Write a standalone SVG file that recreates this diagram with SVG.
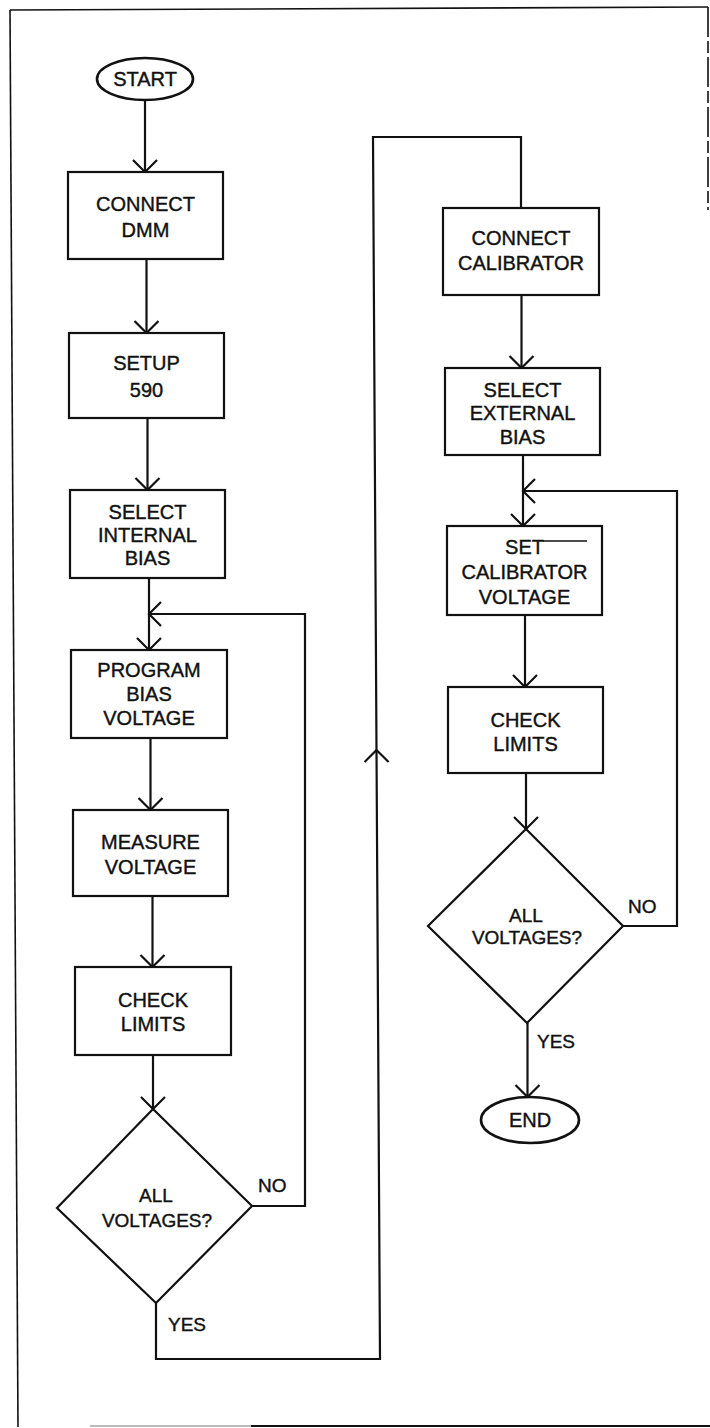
<svg xmlns="http://www.w3.org/2000/svg" width="710" height="1428" viewBox="0 0 710 1428">
<style>
.shape{fill:#fff;stroke:#111;stroke-width:2.2}
.term{fill:#fff;stroke:#111;stroke-width:2.6}
.conn{fill:none;stroke:#111;stroke-width:2.2}
.frame{fill:none;stroke:#111;stroke-width:1.6}
text{font-family:"Liberation Sans",Arial,Helvetica,sans-serif;font-size:20px;fill:#111;stroke:#111;stroke-width:0.4;text-anchor:middle}
.d{font-size:19px}
.lbl{font-size:19px;text-anchor:start}
</style>
<defs>
<marker id="ah" markerUnits="userSpaceOnUse" markerWidth="30" markerHeight="30" viewBox="-15 -15 30 30" refX="0" refY="0" orient="auto">
<path d="M-12,-12 L0,0 L-12,12" fill="none" stroke="#111" stroke-width="2.2"/>
</marker>
</defs>
<rect width="710" height="1428" fill="#fff"/>
<g id="frame">
<path class="frame" d="M10,10 L708,7"/>
<path class="frame" d="M10,10 L18,1427"/>
<path class="frame" d="M708,7 L708,210" stroke-dasharray="30 4 12 4"/>
<path d="M90,1426 H251" stroke="#bbb" stroke-width="2" fill="none"/>
<path d="M251,1426 H710" stroke="#111" stroke-width="2" fill="none"/>
</g>
<g id="connectors">
<path class="conn" d="M145,100 V172" marker-end="url(#ah)"/>
<path class="conn" d="M146.5,259 V333" marker-end="url(#ah)"/>
<path class="conn" d="M147.5,418 V490" marker-end="url(#ah)"/>
<path class="conn" d="M149,578 V650" marker-end="url(#ah)"/>
<path class="conn" d="M252,1206 H305 V614 H149" marker-end="url(#ah)"/>
<path class="conn" d="M150.5,738 V810" marker-end="url(#ah)"/>
<path class="conn" d="M152.5,896 V967" marker-end="url(#ah)"/>
<path class="conn" d="M153,1055 V1109" marker-end="url(#ah)"/>
<path class="conn" d="M156,1303 V1359 H380 L376.5,750" marker-end="url(#ah)"/>
<path class="conn" d="M376.5,750 L373,137 H521 V208"/>
<path class="conn" d="M521.5,295 V368" marker-end="url(#ah)"/>
<path class="conn" d="M523,455 V526" marker-end="url(#ah)"/>
<path class="conn" d="M623,926 H677 V491 H523" marker-end="url(#ah)"/>
<path class="conn" d="M525,615 V687" marker-end="url(#ah)"/>
<path class="conn" d="M526,773 V829" marker-end="url(#ah)"/>
<path class="conn" d="M527.5,1023 V1097" marker-end="url(#ah)"/>
</g>
<g id="start">
<ellipse class="term" cx="145" cy="79" rx="48" ry="21"/>
<text x="145" y="86">START</text>
</g>
<g id="connect-dmm">
<rect class="shape" x="68" y="172" width="155" height="87"/>
<text x="145.5" y="211">CONNECT</text>
<text x="145.5" y="237">DMM</text>
</g>
<g id="setup-590">
<rect class="shape" x="69" y="333" width="155" height="85"/>
<text x="146.5" y="370">SETUP</text>
<text x="146.5" y="397">590</text>
</g>
<g id="select-internal-bias">
<rect class="shape" x="70" y="490" width="155" height="88"/>
<text x="147.5" y="519">SELECT</text>
<text x="147.5" y="542">INTERNAL</text>
<text x="147.5" y="565">BIAS</text>
</g>
<g id="program-bias-voltage">
<rect class="shape" x="71" y="650" width="156" height="88"/>
<text x="149" y="677">PROGRAM</text>
<text x="149" y="701">BIAS</text>
<text x="149" y="725">VOLTAGE</text>
</g>
<g id="measure-voltage">
<rect class="shape" x="73" y="810" width="155" height="86"/>
<text x="150.5" y="849">MEASURE</text>
<text x="150.5" y="874">VOLTAGE</text>
</g>
<g id="check-limits-1">
<rect class="shape" x="75" y="967" width="156" height="88"/>
<text x="153" y="1007">CHECK</text>
<text x="153" y="1031">LIMITS</text>
</g>
<g id="all-voltages-1">
<polygon class="shape" points="153,1109 252,1206 156,1303 57,1208"/>
<text class="d" x="156" y="1202">ALL</text>
<text class="d" x="157" y="1227">VOLTAGES?</text>
<text class="lbl" x="258" y="1192">NO</text>
<text class="lbl" x="168" y="1331">YES</text>
</g>
<g id="connect-calibrator">
<rect class="shape" x="443" y="208" width="156" height="87"/>
<text x="521" y="245">CONNECT</text>
<text x="521" y="270">CALIBRATOR</text>
</g>
<g id="select-external-bias">
<rect class="shape" x="445" y="368" width="155" height="87"/>
<text x="522.5" y="397">SELECT</text>
<text x="522.5" y="420">EXTERNAL</text>
<text x="522.5" y="444">BIAS</text>
</g>
<g id="set-calibrator-voltage">
<rect class="shape" x="447" y="526" width="155" height="89"/>
<text x="524.5" y="554">SET</text>
<path d="M543,541 H587" stroke="#111" stroke-width="1.4" fill="none"/>
<text x="524.5" y="579">CALIBRATOR</text>
<text x="524.5" y="604">VOLTAGE</text>
</g>
<g id="check-limits-2">
<rect class="shape" x="448" y="687" width="155" height="86"/>
<text x="525.5" y="727">CHECK</text>
<text x="525.5" y="751">LIMITS</text>
</g>
<g id="all-voltages-2">
<polygon class="shape" points="526,829 623,926 527,1023 428,926"/>
<text class="d" x="526" y="922">ALL</text>
<text class="d" x="527" y="944">VOLTAGES?</text>
<text class="lbl" x="628" y="913">NO</text>
<text class="lbl" x="537" y="1048">YES</text>
</g>
<g id="end">
<ellipse class="term" cx="530" cy="1120" rx="49" ry="23"/>
<text x="530" y="1127">END</text>
</g>
</svg>
